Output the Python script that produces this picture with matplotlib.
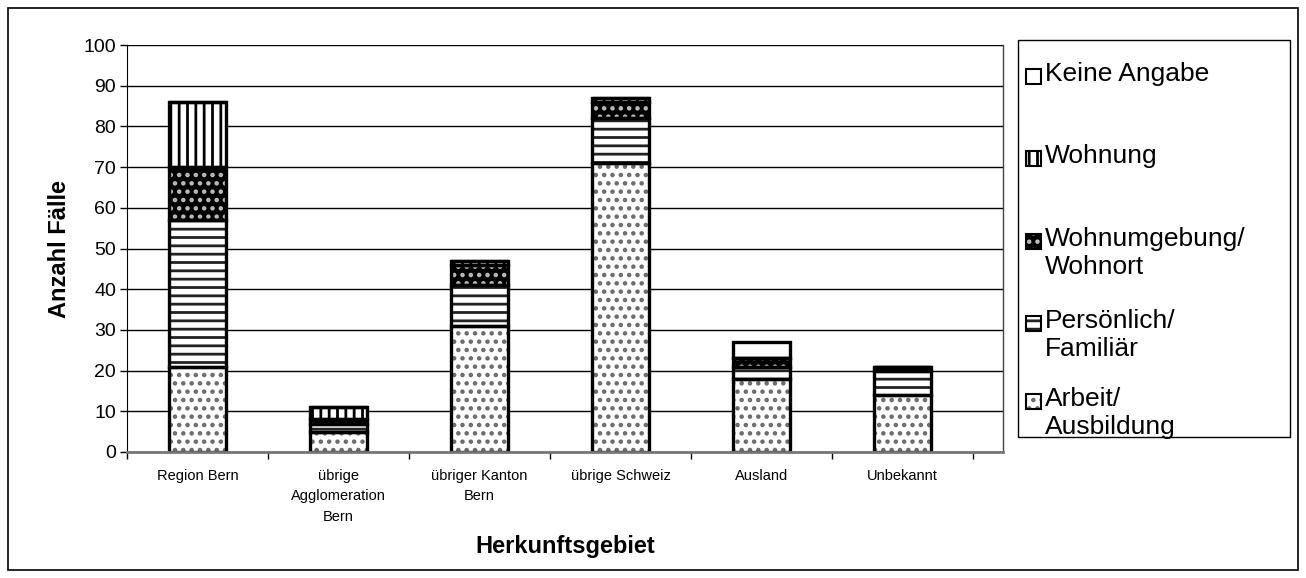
import matplotlib
matplotlib.use("Agg")
import matplotlib.pyplot as plt
from matplotlib.patches import Rectangle
import numpy as np

plt.rcParams['font.family'] = ['Liberation Sans', 'DejaVu Sans']
plt.rcParams['hatch.linewidth'] = 2.0

categories = ["Region Bern", "übrige\nAgglomeration\nBern", "übriger Kanton\nBern",
              "übrige Schweiz", "Ausland", "Unbekannt"]
series_names = ["Arbeit/\nAusbildung", "Persönlich/\nFamiliär", "Wohnumgebung/\nWohnort",
                "Wohnung", "Keine Angabe"]
arbeit = [21, 5, 31, 71, 18, 14]
persoenlich = [36, 2, 10, 11, 3, 6]
wohnumgebung = [13, 1, 5, 4, 2, 1]
wohnung = [16, 3, 1, 1, 0, 0]
keine_angabe = [0, 0, 0, 0, 4, 0]
yticks = list(range(0, 101, 10))

series = [arbeit, persoenlich, wohnumgebung, wohnung, keine_angabe]
# (facecolor, hatchcolor, hatch)
styles = [("white", "#6a6a6a", ".."),
          ("white", "#222222", "--"),
          ("black", "#bdbdbd", ".."),
          ("white", "black", "||"),
          ("white", "white", "")]

W, H = 1306, 578
fig = plt.figure(figsize=(W / 100, H / 100), dpi=100)
ax = fig.add_axes([127 / W, 1 - 452 / H, (1003 - 127) / W, (452 - 45) / H])

x = np.arange(len(categories))
bw = 0.40
bottom = np.zeros(len(categories))
for vals, (fc, hc, hatch) in zip(series, styles):
    v = np.array(vals, dtype=float)
    ax.bar(x, v, bw, bottom=bottom, color=fc, edgecolor=hc, hatch=hatch,
           linewidth=0, zorder=3)
    ax.bar(x, v, bw, bottom=bottom, fill=False, edgecolor="black",
           linewidth=2.4, zorder=4)
    bottom += v

ax.set_ylim(0, 100)
ax.set_xlim(-0.5, 5.5 + 30 / 141)
ax.set_yticks(yticks)
ax.set_yticklabels([str(t) for t in yticks], fontsize=14)
ax.yaxis.grid(True, color="black", linewidth=1.0, zorder=0)
ax.set_axisbelow(True)
ax.tick_params(axis="y", direction="out", length=5, width=1, pad=3)

ax.set_xticks(x)
ax.set_xticklabels(categories, fontsize=10.5, linespacing=1.6)
ax.tick_params(axis="x", length=0, pad=12)
ax.set_xticks(np.arange(-0.5, 6.0, 1.0), minor=True)
ax.tick_params(axis="x", which="minor", direction="out", length=5, width=1)

ax.spines["top"].set_visible(False)
ax.spines["right"].set_color("#444444")
ax.spines["right"].set_linewidth(1.0)
ax.spines["left"].set_color("black")
ax.spines["bottom"].set_color("#777777")
ax.spines["bottom"].set_linewidth(2.0)
ax.spines["bottom"].set_zorder(5)

ax.set_ylabel("Anzahl Fälle", fontsize=17, fontweight="bold", labelpad=9)
ax.set_xlabel("Herkunftsgebiet", fontsize=17, fontweight="bold", labelpad=8)

# outer frame
fig.patches.append(Rectangle((8 / W, 8 / H), (W - 16) / W, (H - 16) / H,
                             transform=fig.transFigure, fill=False,
                             edgecolor="black", linewidth=1.2))

# legend box
lx0, lx1, ly0, ly1 = 1018, 1290, 40, 437
fig.patches.append(Rectangle((lx0 / W, 1 - ly1 / H), (lx1 - lx0) / W, (ly1 - ly0) / H,
                             transform=fig.transFigure, fill=False,
                             edgecolor="black", linewidth=1.0))
entries_y = [76, 158, 241, 323, 401]  # first-line centers, top->bottom
order = [4, 3, 2, 1, 0]
sw = 15
for yc, idx in zip(entries_y, order):
    fc, hc, hatch = styles[idx]
    sx, sy = 1026, yc - sw / 2
    fig.patches.append(Rectangle((sx / W, 1 - (sy + sw) / H), sw / W, sw / H,
                                 transform=fig.transFigure, facecolor=fc,
                                 edgecolor=hc, hatch=hatch, linewidth=0))
    fig.patches.append(Rectangle((sx / W, 1 - (sy + sw) / H), sw / W, sw / H,
                                 transform=fig.transFigure, fill=False,
                                 edgecolor="black", linewidth=1.5))
    fig.text(1045 / W, 1 - (yc - 14) / H, series_names[idx], fontsize=19,
             ha="left", va="top", linespacing=1.22)

fig.savefig("out.png", dpi=100)
